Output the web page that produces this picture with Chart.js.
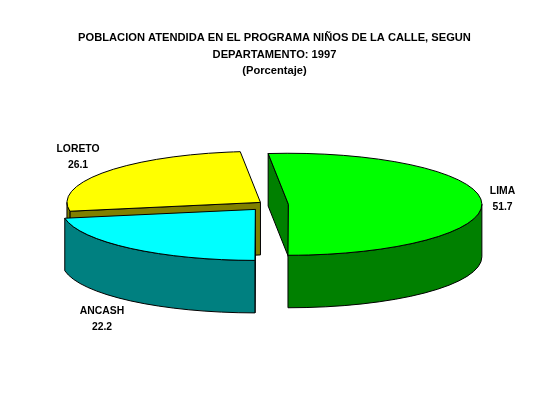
<!DOCTYPE html>
<html>
<head>
<meta charset="utf-8">
<style>
    html, body { margin: 0; padding: 0; background: #ffffff; }
    canvas { display: block; }
</style>
<script src="https://cdn.jsdelivr.net/npm/chart.js@4/dist/chart.umd.js"></script>
</head>
<body>
<canvas id="pieChart" width="549" height="396"></canvas>
<script>
const categories = ['LIMA', 'ANCASH', 'LORETO']
const values = [51.7, 22.2, 26.1]
const titleLines = ['POBLACION ATENDIDA EN EL PROGRAMA NIÑOS DE LA CALLE, SEGUN', 'DEPARTAMENTO: 1997', '(Porcentaje)']

const topColors = ['#00ff00', '#00ffff', '#ffff00']
const sideColors = ['#008000', '#008080', '#808000']
const labelSpots = [[502.5, 191.5], [102, 311.5], [78, 149.5]]

// the look of the 3D pie, in page pixels
const pie = { x: 271, y: 204.5, rx: 193.5, ry: 51, depth: 52.5 }
const explode = [17.4, 24.3, 13.2]
const drawOrder = [2, 0, 1]     // back to front

function sliceCenter(arc, i){
    const mid = (arc.startAngle + arc.endAngle) / 2
    return {
        x: pie.x + Math.cos(mid) * explode[i],
        y: pie.y + Math.sin(mid) * explode[i] * pie.ry / pie.rx
    }
}

function rimPoint(c, angle){
    return { x: c.x + Math.cos(angle) * pie.rx, y: c.y + Math.sin(angle) * pie.ry }
}

function drawCutFace(ctx, c, angle, color){
    const p = rimPoint(c, angle)
    ctx.beginPath()
    ctx.moveTo(c.x, c.y)
    ctx.lineTo(p.x, p.y)
    ctx.lineTo(p.x, p.y + pie.depth)
    ctx.lineTo(c.x, c.y + pie.depth)
    ctx.closePath()
    ctx.fillStyle = color
    ctx.fill()
    ctx.stroke()
}

function drawOuterWall(ctx, c, arc, color){
    // only the part of the rim that faces the viewer (0 to 180 degrees on canvas)
    const tau = Math.PI * 2
    for(const turn of [0, tau]){
        const from = Math.max(arc.startAngle, turn)
        const to = Math.min(arc.endAngle, turn + Math.PI)
        if(to <= from) continue
        ctx.beginPath()
        ctx.ellipse(c.x, c.y, pie.rx, pie.ry, 0, from, to)
        ctx.ellipse(c.x, c.y + pie.depth, pie.rx, pie.ry, 0, to, from, true)
        ctx.closePath()
        ctx.fillStyle = color
        ctx.fill()
        ctx.stroke()
    }
}

const pie3d = {
    id: 'pie3d',
    beforeDatasetDraw(chart, args){
        const ctx = chart.ctx
        const arcs = args.meta.data
        ctx.save()
        ctx.strokeStyle = '#000000'
        ctx.lineWidth = 1
        for(const i of drawOrder){
            const arc = arcs[i]
            const c = sliceCenter(arc, i)
            const side = sideColors[i]
            // a cut face only shows when it turns toward the viewer
            if(Math.cos(arc.startAngle) < -0.001) drawCutFace(ctx, c, arc.startAngle, side)
            if(Math.cos(arc.endAngle) > 0.001) drawCutFace(ctx, c, arc.endAngle, side)
            drawOuterWall(ctx, c, arc, side)

            // top face is the library's own arc, squashed into the ellipse
            ctx.save()
            ctx.translate(c.x, c.y)
            ctx.scale(pie.rx / arc.outerRadius, pie.ry / arc.outerRadius)
            ctx.translate(-arc.x, -arc.y)
            arc.draw(ctx)
            ctx.restore()

            ctx.beginPath()
            ctx.moveTo(c.x, c.y)
            ctx.ellipse(c.x, c.y, pie.rx, pie.ry, 0, arc.startAngle, arc.endAngle)
            ctx.closePath()
            ctx.stroke()
        }
        ctx.restore()
        return false
    },
    afterDraw(chart){
        const ctx = chart.ctx
        ctx.save()
        ctx.font = 'bold 10.4px "Liberation Sans"'
        ctx.fillStyle = '#000000'
        ctx.textAlign = 'center'
        ctx.textBaseline = 'middle'
        categories.forEach(function(name, i){
            ctx.fillText(name, labelSpots[i][0], labelSpots[i][1])
            ctx.fillText(values[i].toFixed(1), labelSpots[i][0], labelSpots[i][1] + 15.5)
        })
        ctx.restore()
    }
}

const myChart = new Chart(document.getElementById('pieChart').getContext('2d'), {
    type: 'pie',
    data: {
        labels: categories,
        datasets: [{
            data: values,
            backgroundColor: topColors,
            borderWidth: 0
        }]
    },
    options: {
        responsive: false,
        animation: false,
        rotation: -6,
        layout: { padding: { top: 29.5 } },
        plugins: {
            legend: { display: false },
            tooltip: { enabled: false },
            title: {
                display: true,
                text: titleLines,
                color: '#000000',
                font: { family: '"Liberation Sans"', size: 11.15, weight: 'bold', lineHeight: 1.5 },
                padding: 0
            }
        }
    },
    plugins: [pie3d]
})
</script>
</body>
</html>
